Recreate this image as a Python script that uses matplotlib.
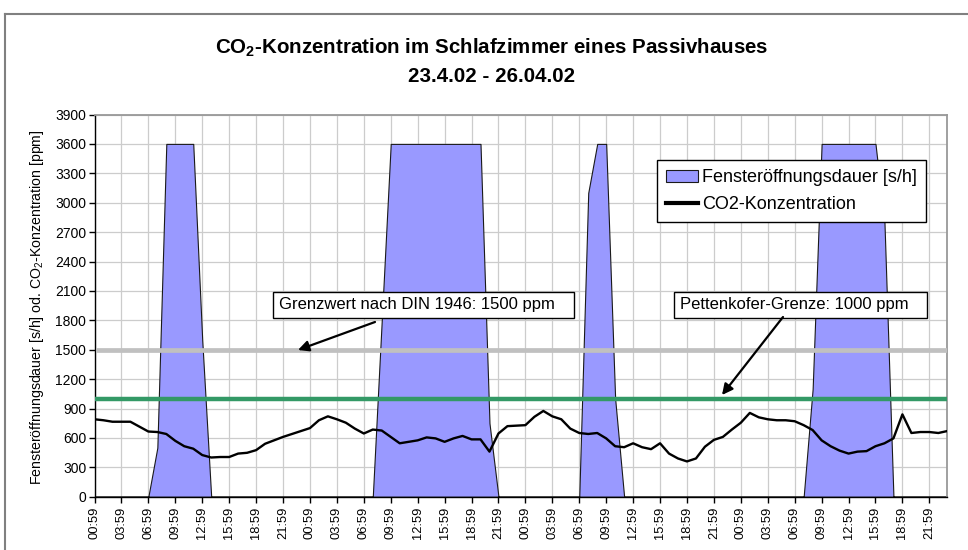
import matplotlib
matplotlib.use("Agg")
import matplotlib.pyplot as plt
from matplotlib.lines import Line2D
from matplotlib.patches import Rectangle

plt.rcParams['font.family'] = ['Liberation Sans', 'DejaVu Sans']
plt.rcParams['mathtext.fontset'] = 'custom'
plt.rcParams['mathtext.rm'] = 'Liberation Sans'
plt.rcParams['mathtext.bf'] = 'Liberation Sans:bold'

# ---- data (hourly, 23.4.02 00:59 ... 26.4.02 23:59) ----
hours = [h % 24 for h in range(96)]
time_labels = [f"{h:02d}:59" for h in hours]

fenster = [0, 0, 0, 0, 0, 0, 0, 500, 3600, 3600, 3600, 3600, 1600, 0, 0, 0, 0, 0, 0, 0, 0, 0, 0, 0,
           0, 0, 0, 0, 0, 0, 0, 0, 1800, 3600, 3600, 3600, 3600, 3600, 3600, 3600, 3600, 3600, 3600, 3600, 750, 0, 0, 0,
           0, 0, 0, 0, 0, 0, 0, 3100, 3600, 3600, 1000, 0, 0, 0, 0, 0, 0, 0, 0, 0, 0, 0, 0, 0,
           0, 0, 0, 0, 0, 0, 0, 0, 1100, 3600, 3600, 3600, 3600, 3600, 3600, 3600, 2800, 0, 0, 0, 0, 0, 0, 0]

co2 = [790, 780, 765, 765, 765, 715, 665, 660, 640, 570, 515, 490, 425, 400, 405, 405, 440, 448, 475, 540, 575, 610, 640, 670,
       700, 780, 820, 790, 755, 695, 645, 685, 675, 610, 545, 560, 575, 605, 595, 560, 595, 620, 585, 585, 460, 645, 720, 725,
       730, 815, 875, 820, 790, 695, 650, 640, 650, 595, 515, 505, 545, 505, 485, 545, 440, 390, 360, 390, 510, 580, 610, 685,
       755, 855, 810, 790, 780, 780, 770, 730, 680, 575, 515, 470, 440, 460, 465, 515, 545, 595, 840, 650, 660, 660, 650, 670]

grenzwert_din = 1500
pettenkofer = 1000

yticks = list(range(0, 3901, 300))
xtick_step = 3

# ---- figure ----
W, H = 968, 550
fig = plt.figure(figsize=(W / 100, H / 100), dpi=100)
L, R, T, B = 94.5, 947.3, 114.5, 496.7
ax = fig.add_axes([L / W, 1 - B / H, (R - L) / W, (B - T) / H])

x = list(range(len(co2)))

ax.fill_between(x, fenster, 0, facecolor='#9999ff', edgecolor='#1a1a1a', linewidth=0.8, zorder=2,
                label='Fensteröffnungsdauer [s/h]')
ax.axhline(grenzwert_din, xmin=0.004, xmax=1, color='#c0c0c0', lw=3.4, zorder=3)
ax.axhline(pettenkofer, xmin=0.003, xmax=1, color='#339966', lw=3.2, zorder=3)
ax.plot(x, co2, color='black', lw=1.7, zorder=4, label='CO2-Konzentration')

ax.set_xlim(0, len(co2) - 1)
ax.set_ylim(0, 3900)
ax.set_yticks(yticks)
ax.set_xticks(x[::xtick_step])
ax.set_xticklabels(time_labels[::xtick_step], rotation=90, fontsize=9.3)
ax.tick_params(axis='y', labelsize=10, length=4, width=1, direction='out', pad=2)
ax.tick_params(axis='x', length=4, width=1, direction='out', pad=3)
ax.grid(True, color='#cccccc', lw=0.9, zorder=0)
ax.set_axisbelow(True)
for s in ['top', 'right']:
    ax.spines[s].set_color('#999999')
    ax.spines[s].set_linewidth(1.3)
for s in ['left', 'bottom']:
    ax.spines[s].set_color('black')
    ax.spines[s].set_linewidth(1.0)

leg = ax.legend(loc='upper right', bbox_to_anchor=(0.975, 0.88), borderaxespad=0,
                fancybox=False, framealpha=1, edgecolor='black', fontsize=13,
                handlelength=1.75, handletextpad=0.25, borderpad=0.5, labelspacing=0.55)
leg.get_frame().set_linewidth(1.0)
for ln in leg.get_lines():
    ln.set_linewidth(3)

def px2ax(px, py):
    return ((px - L) / (R - L), (B - py) / (B - T))

def textbox(x0, x1, y0, y1, txt):
    a0 = px2ax(x0, y1)
    a1 = px2ax(x1, y0)
    ax.add_patch(Rectangle(a0, a1[0] - a0[0], a1[1] - a0[1], transform=ax.transAxes,
                           facecolor='white', edgecolor='black', lw=1.0, zorder=6))
    tx, ty = px2ax(x0 + 6, (y0 + y1) / 2)
    ax.text(tx, ty, txt, transform=ax.transAxes, ha='left', va='center', fontsize=12, zorder=7)

textbox(273, 574, 292, 318, 'Grenzwert nach DIN 1946: 1500 ppm')
textbox(674, 927, 292, 318, 'Pettenkofer-Grenze: 1000 ppm')

arrowprops = dict(arrowstyle='-|>', mutation_scale=16, lw=1.6, color='black', shrinkA=0, shrinkB=0)
ax.annotate('', xy=px2ax(298, 350), xytext=px2ax(375, 322), xycoords='axes fraction',
            textcoords='axes fraction', arrowprops=arrowprops, zorder=8)
ax.annotate('', xy=px2ax(722, 395), xytext=px2ax(783, 317), xycoords='axes fraction',
            textcoords='axes fraction', arrowprops=arrowprops, zorder=8)

fig.text(492 / W, 1 - 48 / H, r'CO$_\mathbf{2}$-Konzentration im Schlafzimmer eines Passivhauses',
         ha='center', va='center', fontsize=14.8, fontweight='bold')
fig.text(492 / W, 1 - 76 / H, '23.4.02 - 26.04.02', ha='center', va='center', fontsize=14.8, fontweight='bold')
fig.text(37 / W, 1 - 307 / H, r'Fensteröffnungsdauer [s/h] od. CO$_\mathrm{2}$-Konzentration [ppm]',
         rotation=90, ha='center', va='center', fontsize=10.2)

# chart-area border (left and top edges visible)
fig.add_artist(Line2D([5 / W, 5 / W], [0, 1 - 14 / H], color='#808080', lw=1.5))
fig.add_artist(Line2D([5 / W, 1], [1 - 14 / H, 1 - 14 / H], color='#808080', lw=1.5))

fig.savefig('out.png', dpi=100)
